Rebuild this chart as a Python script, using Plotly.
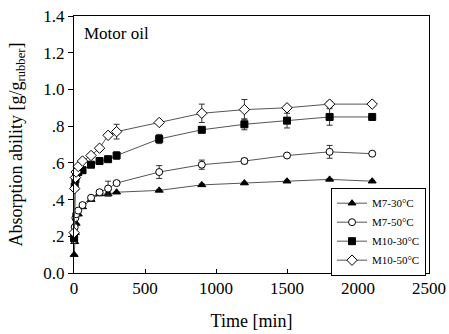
import plotly.graph_objects as go

time_min = [1, 5, 10, 15, 30, 60, 120, 180, 240, 300, 600, 900, 1200, 1500, 1800, 2100]

m7_30 = [0.10, 0.17, 0.22, 0.27, 0.32, 0.36, 0.40, 0.43, 0.43, 0.44, 0.45, 0.48, 0.49, 0.50, 0.51, 0.50]
m7_30_err = [0, 0, 0, 0, 0, 0, 0, 0, 0.01, 0, 0.005, 0.005, 0.005, 0.005, 0.005, 0.005]

m7_50 = [0.18, 0.25, 0.30, 0.32, 0.34, 0.37, 0.41, 0.44, 0.46, 0.49, 0.55, 0.59, 0.61, 0.64, 0.66, 0.65]
m7_50_err = [0, 0, 0, 0, 0, 0, 0, 0.01, 0.04, 0.01, 0.035, 0.025, 0.015, 0.01, 0.035, 0.01]

m10_30 = [0.19, 0.47, 0.51, 0.53, 0.55, 0.56, 0.59, 0.61, 0.62, 0.64, 0.73, 0.78, 0.81, 0.83, 0.85, 0.85]
m10_30_err = [0, 0, 0, 0, 0, 0, 0, 0.005, 0.01, 0.02, 0.025, 0.01, 0.03, 0.04, 0.045, 0.005]

m10_50 = [0.22, 0.46, 0.52, 0.55, 0.58, 0.61, 0.64, 0.68, 0.75, 0.77, 0.82, 0.87, 0.89, 0.90, 0.92, 0.92]
m10_50_err = [0, 0, 0, 0, 0, 0, 0, 0, 0.01, 0.04, 0.01, 0.05, 0.055, 0.01, 0.015, 0.005]

series_names = ["M7-30\u00b0C", "M7-50\u00b0C", "M10-30\u00b0C", "M10-50\u00b0C"]

y_tickvals = [0, 0.2, 0.4, 0.6, 0.8, 1.0, 1.2, 1.4]
y_ticktext = ["0.0", ".2", ".4", ".6", ".8", "1.0", "1.2", "1.4"]
x_tickvals = [0, 500, 1000, 1500, 2000, 2500]

FONT = "Liberation Serif"
LINE_C = "#555555"

styles = [
    dict(symbol="triangle-up", color="black", line=dict(color="black", width=1), size=7),
    dict(symbol="circle", color="white", line=dict(color="black", width=1), size=7),
    dict(symbol="square", color="black", line=dict(color="black", width=1), size=7),
    dict(symbol="diamond", color="white", line=dict(color="black", width=1), size=8),
]

fig = go.Figure()
for name, ys, err, mk in zip(series_names,
                             [m7_30, m7_50, m10_30, m10_50],
                             [m7_30_err, m7_50_err, m10_30_err, m10_50_err],
                             styles):
    fig.add_trace(go.Scatter(
        x=time_min, y=ys, name=name, mode="lines+markers",
        line=dict(color=LINE_C, width=1),
        marker=mk,
        error_y=dict(type="data", array=err, visible=True, color="#333333",
                     thickness=1, width=3),
        cliponaxis=False,
    ))

fig.update_layout(
    width=449, height=334,
    margin=dict(l=74, r=20, t=16, b=61),
    paper_bgcolor="white", plot_bgcolor="white",
    font=dict(family=FONT, color="black", size=17),
    showlegend=True,
    legend=dict(
        x=0.724, y=0.332, xanchor="left", yanchor="top",
        bordercolor="black", borderwidth=1, bgcolor="white",
        font=dict(family=FONT, size=11),
        tracegroupgap=0, itemwidth=30,
    ),
    xaxis=dict(
        range=[0, 2500], tickvals=x_tickvals, showgrid=False, zeroline=False,
        showline=True, linecolor="black", linewidth=1, mirror=True,
        ticks="inside", ticklen=4, tickcolor="black", automargin=False,
        title=dict(text="Time [min]", font=dict(family=FONT, size=18), standoff=16),
        tickfont=dict(family=FONT, size=17),
    ),
    yaxis=dict(
        range=[0, 1.4], tickvals=y_tickvals, ticktext=y_ticktext, showgrid=False,
        zeroline=False, showline=True, linecolor="black", linewidth=1, mirror=True,
        ticks="outside", ticklen=5, tickcolor="black", automargin=False,
        title=dict(text="Absorption ability [g/g<sub>rubber</sub>]", font=dict(family=FONT, size=18), standoff=16),
        tickfont=dict(family=FONT, size=17),
    ),
    annotations=[dict(
        text="Motor oil", x=0.022, y=0.93, xref="paper", yref="paper",
        xanchor="left", yanchor="middle", showarrow=False,
        font=dict(family=FONT, size=17),
    )],
)

fig.write_html("out.html")
